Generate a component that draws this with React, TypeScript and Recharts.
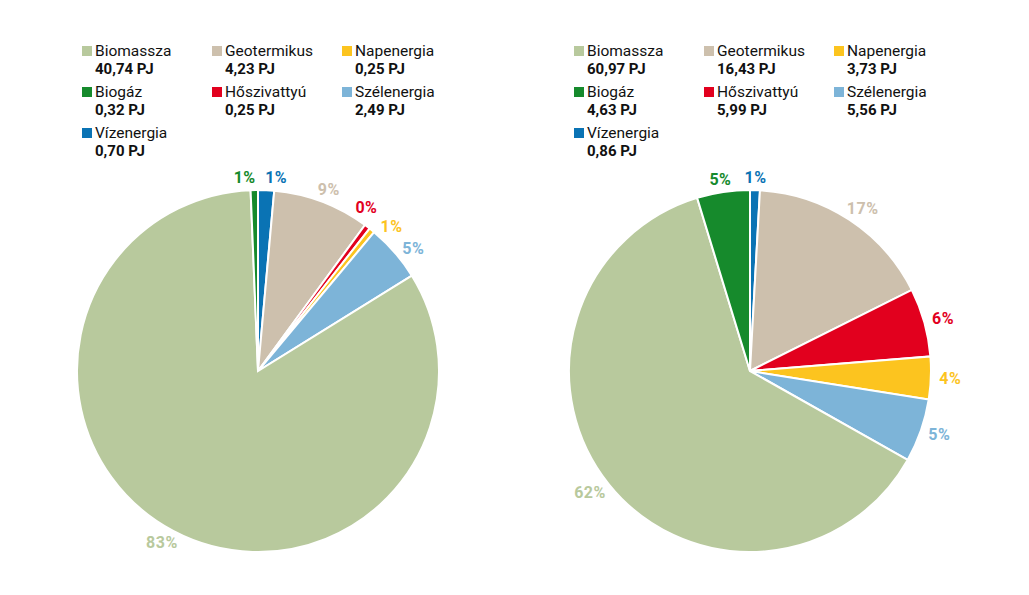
import React, { useMemo } from 'react'
import { PieChart, Pie, Cell } from 'recharts'

// Energy sources, in the order the slices run clockwise from 12 o'clock
const sources = ['Vízenergia', 'Geotermikus', 'Hőszivattyú', 'Napenergia', 'Szélenergia', 'Biomassza', 'Biogáz']
const colors = ['#0a73b4', '#cdc0ad', '#e2001e', '#fcc41f', '#7db4d8', '#b8c99d', '#168a2c']

// PJ values per source (left and right chart)
const leftValues = [0.7, 4.23, 0.25, 0.25, 2.49, 40.74, 0.32]
const rightValues = [0.86, 16.43, 5.99, 3.73, 5.56, 60.97, 4.63]

// Percent labels as printed on the slices
const leftPct = ['1%', '9%', '0%', '1%', '5%', '83%', '1%']
const rightPct = ['1%', '17%', '6%', '4%', '5%', '62%', '5%']

// Legend order (3 columns, row by row)
const legendOrder = ['Biomassza', 'Geotermikus', 'Napenergia', 'Biogáz', 'Hőszivattyú', 'Szélenergia', 'Vízenergia']

const FONT = 'Roboto, "DejaVu Sans", sans-serif'
const RADIAN = Math.PI / 180

const fmt = (v: number) => v.toFixed(2).replace('.', ',') + ' PJ'

// push neighbouring labels apart so small slices don't overlap
function labelShifts(values: number[], minGap = 9): number[] {
  const total = values.reduce((s, v) => s + v, 0)
  let acc = 0
  const mids = values.map((v) => {
    const a = ((acc + v / 2) / total) * 360
    acc += v
    return a > 180 ? a - 360 : a
  })
  const adj = [...mids]
  const order = adj.map((_, i) => i).sort((a, b) => adj[a] - adj[b])
  for (let it = 0; it < 20; it++) {
    for (let k = 0; k < order.length - 1; k++) {
      const i = order[k]
      const j = order[k + 1]
      const gap = adj[j] - adj[i]
      if (gap < minGap) {
        const d = (minGap - gap) / 2
        adj[i] -= d
        adj[j] += d
      }
    }
  }
  return adj.map((a, i) => a - mids[i])
}

interface PanelProps {
  values: number[]
  pct: string[]
  left: number
}

function Panel({ values, pct, left }: PanelProps) {
  const data = sources.map((name, i) => ({ name, value: values[i] }))
  const shifts = useMemo(() => labelShifts(values), [values])

  const renderLabel = (props: any) => {
    const { cx, cy, midAngle, outerRadius, index } = props
    const angle = midAngle - shifts[index]
    const cos = Math.cos(-angle * RADIAN)
    const sin = Math.sin(-angle * RADIAN)
    // half the text width pushes side labels clear of the rim
    const w = pct[index].length * 9.5
    const x = cx + (outerRadius + 10) * cos + (cos * w) / 2
    const y = cy + (outerRadius + 13) * sin
    return (
      <text
        x={x}
        y={y}
        fill={colors[index]}
        textAnchor="middle"
        dominantBaseline="central"
        style={{ fontFamily: FONT, fontSize: 16, fontWeight: 700, letterSpacing: 0.5 }}
      >
        {pct[index]}
      </text>
    )
  }

  return (
    <div style={{ position: 'absolute', left, top: 0, width: 492, height: 595 }}>
      {/* Legend */}
      <div
        style={{
          position: 'absolute',
          left: 82,
          top: 42,
          display: 'grid',
          gridTemplateColumns: '130px 130px 130px',
          rowGap: 5,
          fontFamily: FONT,
          color: '#111',
        }}
      >
        {legendOrder.map((name) => {
          const i = sources.indexOf(name)
          return (
            <div key={name} style={{ display: 'flex', alignItems: 'flex-start' }}>
              <span
                style={{
                  width: 10,
                  height: 10,
                  marginTop: 4,
                  marginRight: 3,
                  background: colors[i],
                  flexShrink: 0,
                }}
              />
              <div style={{ lineHeight: '18px' }}>
                <div style={{ fontSize: 15.5 }}>{name}</div>
                <div style={{ fontSize: 15, fontWeight: 700 }}>{fmt(values[i])}</div>
              </div>
            </div>
          )
        })}
      </div>

      <PieChart
        width={492}
        height={595}
        margin={{ top: 0, right: 0, bottom: 0, left: 0 }}
        style={{ position: 'absolute', left: 0, top: 0 }}
      >
        <Pie
          data={data}
          dataKey="value"
          nameKey="name"
          cx={258}
          cy={371}
          outerRadius={181}
          startAngle={90}
          endAngle={-270}
          stroke="#fff"
          strokeWidth={2}
          label={renderLabel}
          labelLine={false}
          isAnimationActive={false}
        >
          {data.map((d, i) => (
            <Cell key={d.name} fill={colors[i]} />
          ))}
        </Pie>
      </PieChart>
    </div>
  )
}

export default function App() {
  return (
    <div
      style={{
        position: 'relative',
        margin: -8,
        width: 1029,
        height: 595,
        overflow: 'hidden',
        background: '#d9dfe5',
      }}
    >
      <div
        style={{
          position: 'absolute',
          left: 0,
          top: 6,
          width: 1027,
          height: 600,
          background: '#fff',
          borderTopLeftRadius: 6,
          borderTopRightRadius: 6,
          borderRight: '1px solid #dcdcdc',
        }}
      />
      <Panel values={leftValues} pct={leftPct} left={0} />
      <Panel values={rightValues} pct={rightPct} left={492} />
    </div>
  )
}
